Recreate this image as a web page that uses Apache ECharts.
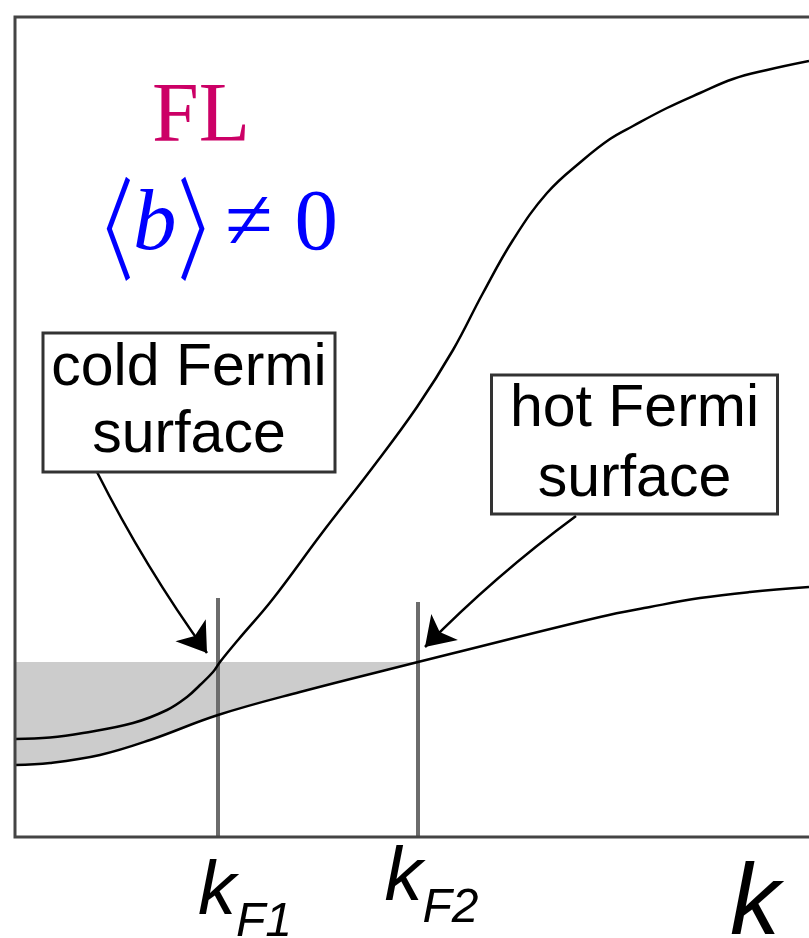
<!DOCTYPE html>
<html><head><meta charset="utf-8">
<script src="https://cdn.jsdelivr.net/npm/echarts@6/dist/echarts.min.js"></script>
<style>html,body{margin:0;padding:0;background:#fff}#c{width:809px;height:938px}</style>
</head><body><div id="c"></div>
<script>
// cold band (steep upper curve)
const coldK = [-0.015, 0.16, 0.325, 0.575, 0.745, 0.845, 0.91, 0.975, 1.01, 1.10, 1.27, 1.52, 1.775, 1.995, 2.175, 2.325, 2.475, 2.645, 2.825, 2.96, 3.075, 3.245, 3.41, 3.575, 3.745, 3.955];
const coldE = [0.98, 0.995, 1.04, 1.14, 1.27, 1.40, 1.52, 1.65, 1.75, 1.97, 2.37, 3.04, 3.70, 4.30, 4.87, 5.44, 5.97, 6.44, 6.77, 6.98, 7.11, 7.29, 7.44, 7.58, 7.67, 7.76];
// hot band (flat lower curve)
const hotK = [-0.015, 0.16, 0.41, 0.66, 1.0, 1.41, 2.0, 2.16, 2.91, 3.16, 3.41, 3.66, 3.955];
const hotE = [0.72, 0.74, 0.82, 0.97, 1.22, 1.45, 1.75, 1.83, 2.20, 2.30, 2.39, 2.45, 2.50];
const fermiLevel = 1.75;
const kF = [1, 2];
const kFLineTop = [2.39, 2.35];
const kFSub = ['F1', 'F2'];
const axisName = 'k';
const phaseLabel = 'FL';
const orderLabel = ['〈', 'b', '〉', '≠ 0'];
const boxTexts = ['cold Fermi\nsurface', 'hot Fermi\nsurface'];
const boxAnchor = [[0.855, 4.345], [3.0825, 3.925]];
const arrowFrom = [[0.395, 3.65], [2.79, 3.21]];
const arrowTo = [[0.945, 1.84], [2.035, 1.90]];
const phaseAnchor = [0.915, 7.18];
const orderAnchor = [1.02, 6.15];

const zip = (a, b) => a.map((v, i) => [v, b[i]]);

const chart = echarts.init(document.getElementById('c'), null, {renderer: 'canvas'});
const sans = 'Liberation Sans, Arial, sans-serif';
const serif = 'Liberation Serif, Times New Roman, serif';
const cjk = 'Noto Sans CJK SC, sans-serif';
const baseOrigin = 0.02;
const smoothness = 0.4;
const blue = '#0000ff';

const option = {
  animation: false,
  backgroundColor: '#fff',
  grid: {left: 15, top: 17, width: 800, height: 820, show: true, borderColor: '#444', borderWidth: 3, backgroundColor: 'transparent', z: 10, outerBoundsMode: 'none', containLabel: false},
  xAxis: {
    type: 'value', min: -0.015, max: 3.985,
    axisLine: {show: false}, axisTick: {show: false}, splitLine: {show: false},
    name: axisName, nameLocation: 'end', nameGap: -35,
    nameTextStyle: {fontFamily: sans, fontStyle: 'italic', fontSize: 100, lineHeight: 100, color: '#000', align: 'right', verticalAlign: 'top', padding: [19, 0, 0, 0]},
    axisLabel: {
      customValues: kF, margin: 4, color: '#000',
      formatter: function (v) {
        const i = kF.indexOf(v);
        if (i < 0) return '';
        return i === 0 ? '{k1|k}{s1|' + kFSub[0] + '}' : '{k2|k}{s2|' + kFSub[1] + '}';
      },
      rich: {
        k1: {fontFamily: sans, fontStyle: 'italic', fontSize: 76, lineHeight: 76, verticalAlign: 'top', padding: [14, 0, 0, 54], color: '#000'},
        s1: {fontFamily: sans, fontStyle: 'italic', fontSize: 48, lineHeight: 48, verticalAlign: 'top', padding: [58, 0, 0, 0], color: '#000'},
        k2: {fontFamily: sans, fontStyle: 'italic', fontSize: 76, lineHeight: 76, verticalAlign: 'top', padding: [0, 0, 0, 27], color: '#000'},
        s2: {fontFamily: sans, fontStyle: 'italic', fontSize: 48, lineHeight: 48, verticalAlign: 'top', padding: [44, 0, 0, 0], color: '#000'}
      }
    }
  },
  yAxis: {type: 'value', min: 0, max: 8.2, show: false, splitLine: {show: false}},
  series: [
    {
      type: 'line', name: 'occupied', silent: true, z: 1,
      data: [[hotK[0], fermiLevel], [kF[1], fermiLevel]],
      showSymbol: false, symbol: 'none', lineStyle: {width: 0, opacity: 0},
      areaStyle: {color: '#cccccc', opacity: 1, origin: baseOrigin}
    },
    {
      type: 'line', name: 'hotMask', silent: true, z: 1,
      data: zip(hotK, hotE),
      smooth: smoothness, showSymbol: false, symbol: 'none', lineStyle: {width: 0, opacity: 0},
      areaStyle: {color: '#ffffff', opacity: 1, origin: baseOrigin}
    },
    {
      type: 'lines', coordinateSystem: 'cartesian2d', silent: true, z: 2,
      lineStyle: {color: '#6c6c6c', width: 4, opacity: 1},
      data: kF.map((k, i) => ({coords: [[k, 0], [k, kFLineTop[i]]]}))
    },
    {
      type: 'line', name: 'cold', silent: true, z: 3, data: zip(coldK, coldE),
      smooth: smoothness, showSymbol: false, symbol: 'none', lineStyle: {color: '#000', width: 2.5}
    },
    {
      type: 'line', name: 'hot', silent: true, z: 3, data: zip(hotK, hotE),
      smooth: smoothness, showSymbol: false, symbol: 'none', lineStyle: {color: '#000', width: 2.5}
    },
    {
      type: 'lines', coordinateSystem: 'cartesian2d', silent: true, z: 4,
      symbol: ['none', 'arrow'], symbolSize: 28,
      lineStyle: {color: '#000', width: 2.5, opacity: 1, curveness: -0.04},
      data: arrowFrom.map((f, i) => ({coords: [f, arrowTo[i]]}))
    },
    {
      type: 'scatter', silent: true, z: 5, symbolSize: 1, itemStyle: {color: 'rgba(0,0,0,0)', opacity: 1},
      data: [
        {value: boxAnchor[0], label: {show: true, opacity: 1, position: 'inside', formatter: boxTexts[0], fontFamily: sans, fontSize: 59, lineHeight: 67, color: '#000', align: 'center', verticalAlign: 'middle', width: 289, height: 116, padding: [0, 0, 20, 0], backgroundColor: '#fff', borderColor: '#333', borderWidth: 3}},
        {value: boxAnchor[1], label: {show: true, opacity: 1, position: 'inside', formatter: boxTexts[1], fontFamily: sans, fontSize: 59, lineHeight: 70, color: '#000', align: 'center', verticalAlign: 'middle', width: 283, height: 136, padding: 0, backgroundColor: '#fff', borderColor: '#333', borderWidth: 3}},
        {value: phaseAnchor, label: {show: true, opacity: 1, position: 'inside', formatter: phaseLabel, fontFamily: serif, fontSize: 84, lineHeight: 84, color: '#cc0066'}}
      ]
    }
  ]
};
chart.setOption(option);

// order-parameter formula, anchored at a data coordinate
const p = chart.convertToPixel({gridIndex: 0}, orderAnchor);
chart.setOption({
  graphic: [{
    type: 'group', x: p[0], y: p[1], silent: true, z: 20,
    children: [
      {type: 'text', x: -121, y: 7.5, scaleX: 0.58, style: {text: orderLabel[0], fontFamily: cjk, fontSize: 112, fill: blue, align: 'center', verticalAlign: 'middle'}},
      {type: 'text', x: -89, y: 4, style: {text: orderLabel[1], fontFamily: serif, fontStyle: 'italic', fontSize: 87, fill: blue, align: 'left', verticalAlign: 'middle'}},
      {type: 'text', x: -11.7, y: 7.5, scaleX: 0.58, style: {text: orderLabel[2], fontFamily: cjk, fontSize: 112, fill: blue, align: 'center', verticalAlign: 'middle'}},
      {type: 'text', x: 3, y: 4, style: {text: orderLabel[3], fontFamily: serif, fontSize: 87, fill: blue, align: 'left', verticalAlign: 'middle'}}
    ]
  }]
});
</script></body></html>
